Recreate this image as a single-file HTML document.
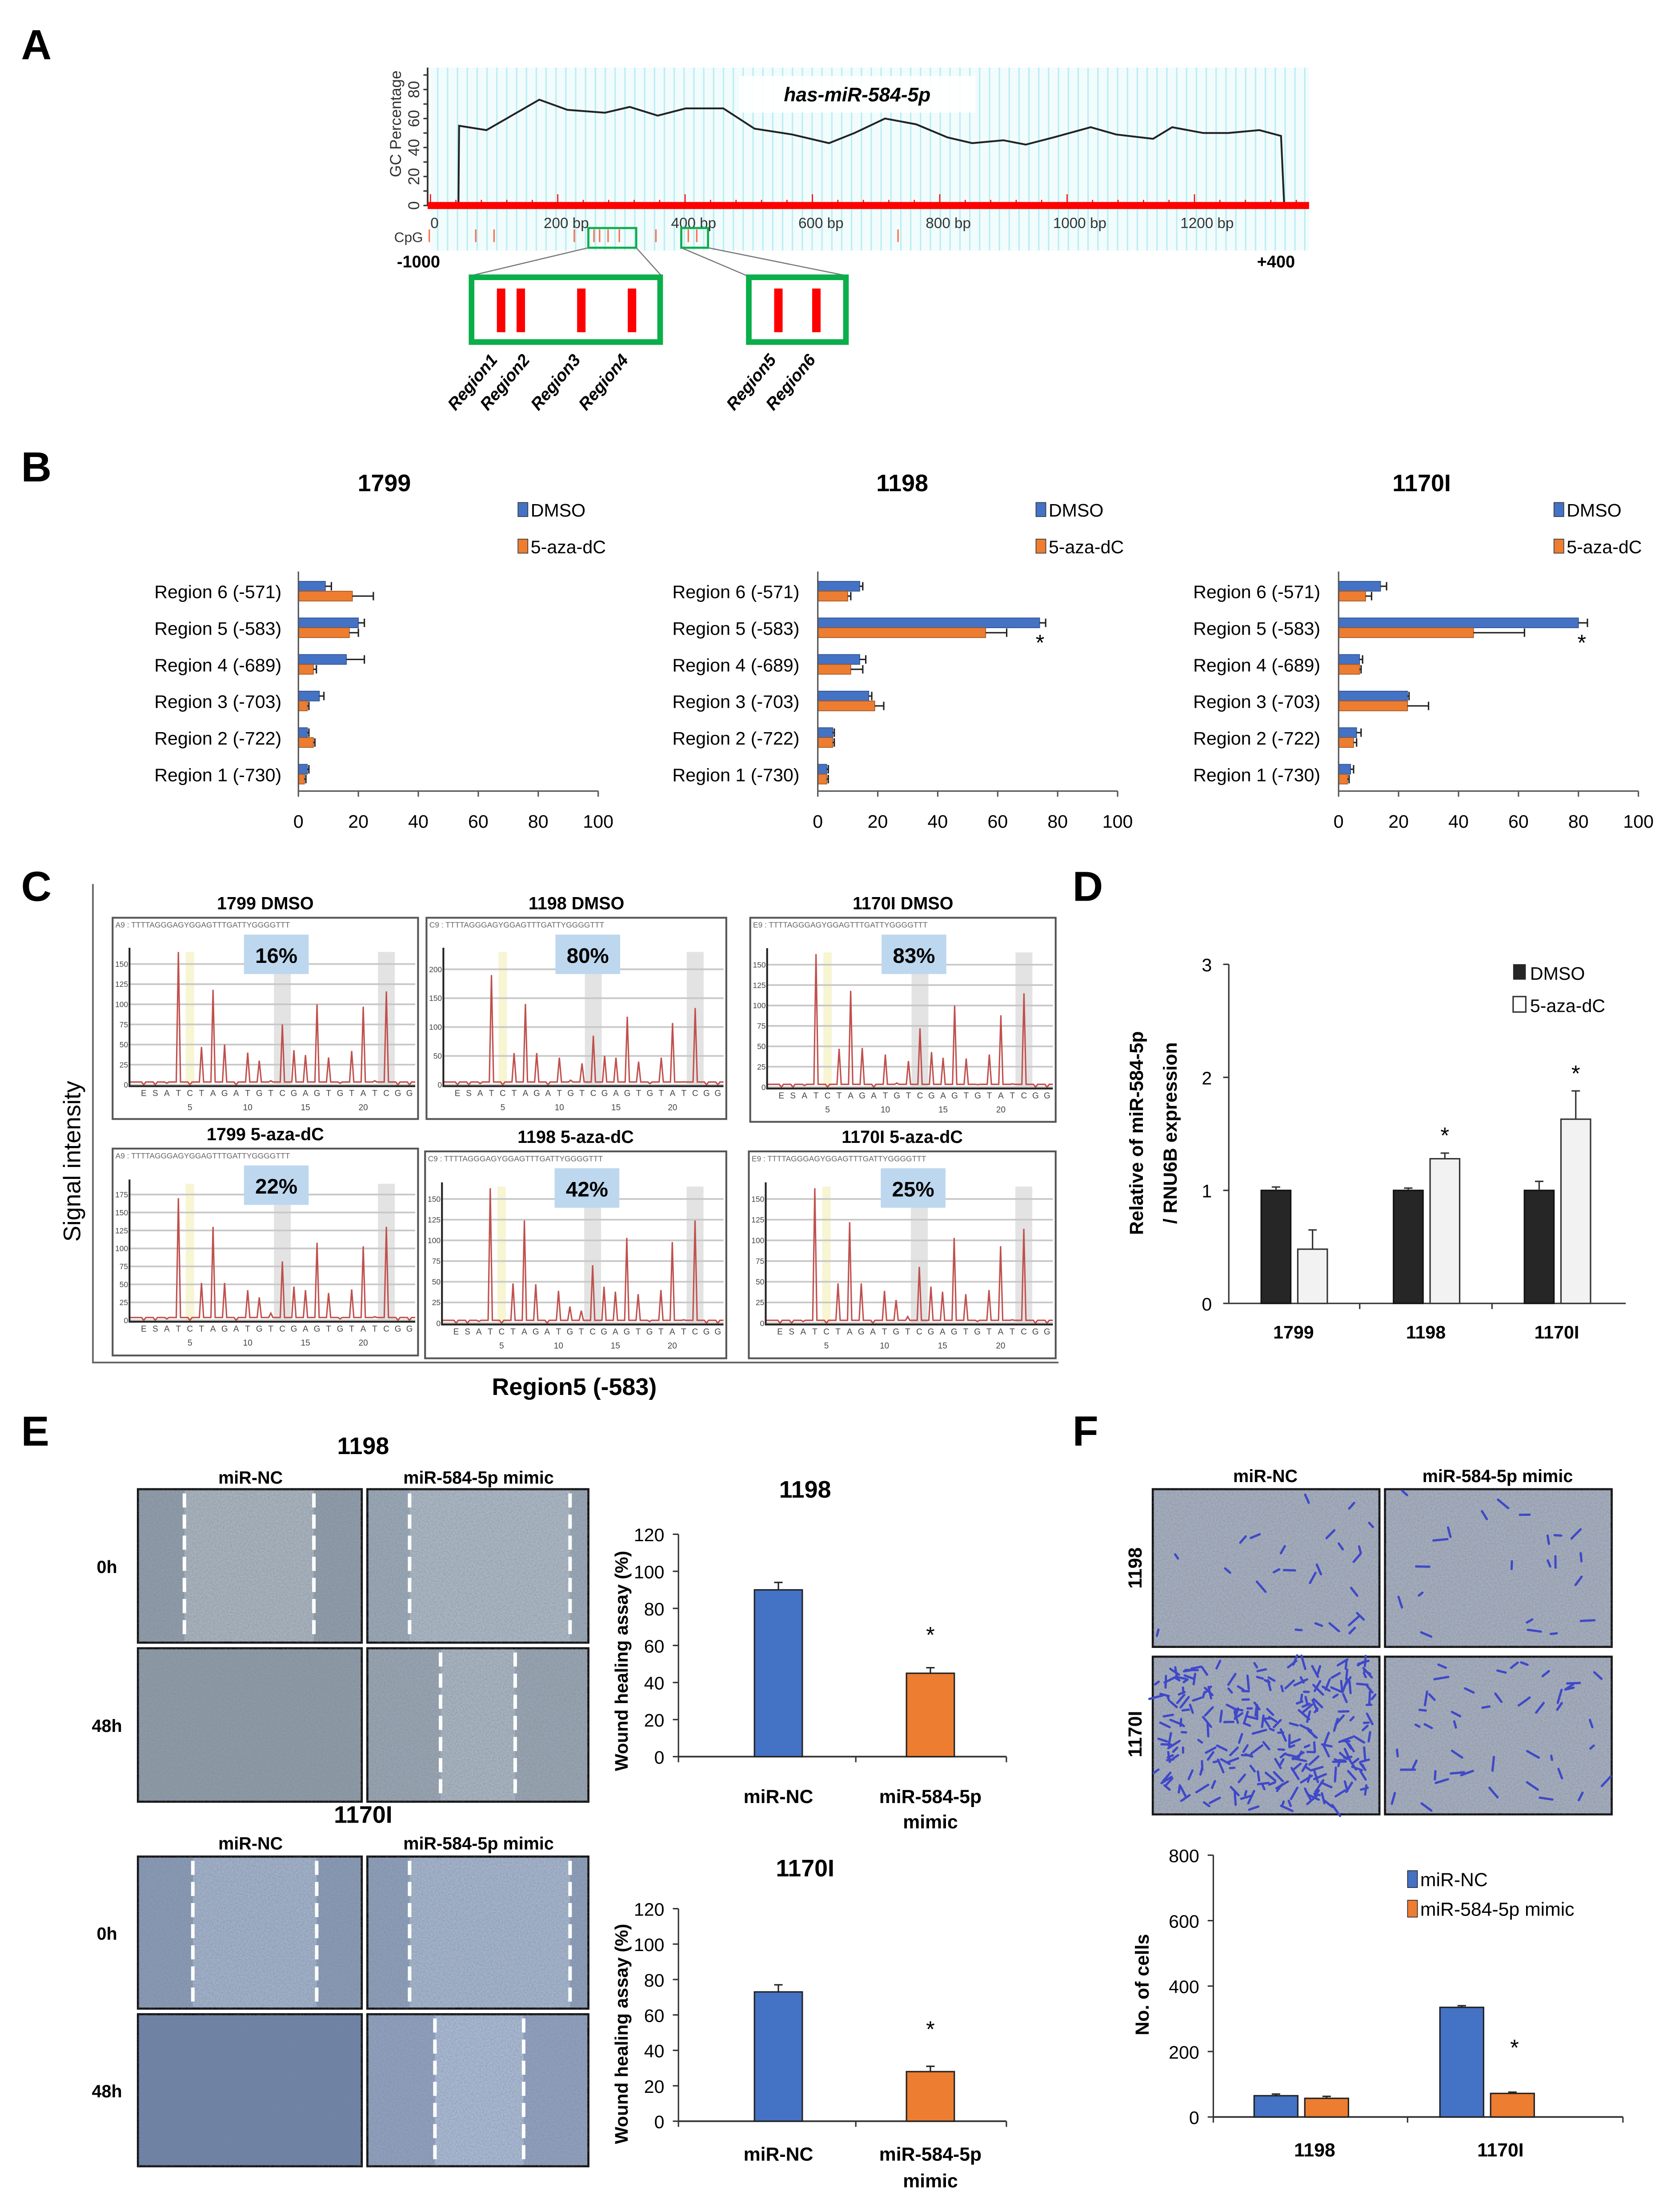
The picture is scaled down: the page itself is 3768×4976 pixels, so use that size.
<!DOCTYPE html>
<html><head><meta charset="utf-8"><style>
html,body{margin:0;padding:0;background:#fff}
svg{display:block}
text{font-family:"Liberation Sans",sans-serif}
</style></head><body>
<svg id="fig" xmlns="http://www.w3.org/2000/svg" width="3768" height="4976" viewBox="0 0 1190 1571.5">
<defs>
<filter id="noise" x="0" y="0" width="100%" height="100%"><feTurbulence type="fractalNoise" baseFrequency="0.9" numOctaves="2" seed="3"/><feColorMatrix type="matrix" values="0 0 0 0 0.2  0 0 0 0 0.22  0 0 0 0 0.28  0 0 0 1.4 -0.45"/></filter>
<pattern id="cyanlines" width="7" height="10" patternUnits="userSpaceOnUse"><rect width="7" height="10" fill="#f2fcfd"/><line x1="3" y1="0" x2="3" y2="10" stroke="#b9eef2" stroke-width="1"/></pattern>
</defs>
<rect width="1190" height="1571.5" fill="#fff"/>
<g font-weight="bold" font-size="30">
<text x="15" y="42">A</text>
<text x="15" y="342">B</text>
<text x="15" y="640">C</text>
<text x="762" y="640">D</text>
<text x="15" y="1027">E</text>
<text x="762" y="1027">F</text>
</g>
<g id="pA"></g>
<g id="pB"></g>
<g id="pC"></g>
<g id="pD"></g>
<g id="pE"></g>
<g id="pF"></g>
</svg>
<script>
// ---------- DATA ----------
const gcBp  = [0,44,45,88,171,215,274,313,357,401,460,509,568,626,666,714,763,812,851,900,935,979,1037,1077,1135,1165,1214,1253,1302,1336,1341,1380];
const gcPct = [0,0,55,52,73,66,64,68,62,67,67,53,49,43,50,60,56,47,43,45,42,47,54,49,46,54,50,50,52,48,0,0];
const regionCats = ["Region 6 (-571)","Region 5 (-583)","Region 4 (-689)","Region 3 (-703)","Region 2 (-722)","Region 1 (-730)"];
const bTitles = ["1799","1198","1170I"];
const bDmso = [[9,20,16,7,3,3],[14,74,14,17,5,3],[14,80,7,23,6,4]];
const bDmsoErr = [[2,2,6,1.5,0.5,0.5],[1,2,2,1,0.5,0.5],[2,3,1,0.5,1.5,1]];
const bAza = [[18,17,5,3,5,2],[10,56,11,19,5,3],[9,45,7,23,5,3]];
const bAzaErr = [[7,3,1,0.5,0.5,0.5],[1,7,4,3,0.5,0.5],[2,17,0.5,7,1,0.5]];
const bSig = [[false,false,false,false,false,false],[false,true,false,false,false,false],[false,true,false,false,false,false]];
const bTicks = [0,20,40,60,80,100];
const pyroTitles = ["1799 DMSO","1198 DMSO","1170I DMSO","1799 5-aza-dC","1198 5-aza-dC","1170I 5-aza-dC"];
const pyroPct = ["16%","80%","83%","22%","42%","25%"];
const pyroMax = [165,230,165,190,165,165];
const pyroTickStep = [25,50,25,25,25,25];
const pyroLetters = ["E","S","A","T","C","T","A","G","A","T","G","T","C","G","A","G","T","G","T","A","T","C","G","G"];
const pyroPeaks = [
 [0,0,2,165,0,47,118,50,0,40,30,5,75,43,37,100,34,2,42,97,5,116,0,0],
 [0,0,2,190,0,55,140,55,0,47,8,37,85,50,47,118,40,2,47,107,5,133,0,0],
 [0,0,2,163,0,47,118,48,0,40,5,32,72,43,36,100,35,3,40,88,4,115,0,0],
 [0,0,2,170,0,52,130,52,0,42,32,10,82,47,42,108,38,2,43,103,5,130,0,0],
 [0,0,2,163,0,48,124,47,0,39,20,15,70,44,38,103,35,2,40,98,4,124,0,0],
 [0,0,2,163,0,48,122,48,0,39,28,8,68,44,38,103,35,2,40,93,4,114,0,0]];
const dCats = ["1799","1198","1170I"];
const dDmso = [1.0,1.0,1.0];
const dDmsoErr = [0.03,0.02,0.08];
const dAza = [0.48,1.28,1.63];
const dAzaErr = [0.17,0.05,0.25];
const dSig = [false,true,true];
const dTicks = [0,1,2,3];
const eCats = ["miR-NC","miR-584-5p mimic"];
const eTitles = ["1198","1170I"];
const eVals = [[90,45],[73,28]];
const eErr = [[4,3],[4,3]];
const eSig = [[false,true],[false,true]];
const eTicks = [0,20,40,60,80,100,120];
const fCats = ["1198","1170I"];
const fNC = [65,335];
const fNCErr = [5,5];
const fMimic = [57,72];
const fMimicErr = [6,4];
const fSig = [false,true];
const fTicks = [0,200,400,600,800];

// ---------- HELPERS ----------
const NS="http://www.w3.org/2000/svg";
function el(parent,tag,attrs,txt){const e=document.createElementNS(NS,tag);for(const k in attrs)e.setAttribute(k,attrs[k]);if(txt!==undefined)e.textContent=txt;parent.appendChild(e);return e;}
const BLUE="#4472c4",ORANGE="#ed7d31";

// ---------- PANEL A ----------
(function(){
 const g=document.getElementById('pA');
 const x0=305.8,x1=930,yb=146,yt=48;
 const sx=bp=>x0+bp*(x1-x0)/1380, sy=p=>yb-p*1.03;
 let r=el(g,'rect',{x:x0,y:yt,width:x1-x0,height:130,fill:'url(#cyanlines)'});
 
 
 r=el(g,'rect',{x:525,y:54,width:168,height:26,fill:'#ffffff',opacity:0.9});
 
 
 let t=el(g,'text',{x:609,y:72,'font-size':14,'font-weight':'bold','font-style':'italic','text-anchor':'middle'},'has-miR-584-5p');
 
 
 let ax=el(g,'line',{x1:x0-2,y1:yt,x2:x0-2,y2:yb,stroke:'#333','stroke-width':1.2});
 
 
 [0,20,40,60,80].forEach(v=>{
  const tl=el(g,'text',{x:0,y:0,'font-size':11,fill:'#333','text-anchor':'middle',transform:`translate(${x0-8},${sy(v)}) rotate(-90)`},String(v));
  
  
 });
 for(let v=0;v<=90;v+=10){const tk=el(g,'line',{x1:x0-5,y1:sy(v),x2:x0-2,y2:sy(v),stroke:'#333'});
  
  }
 t=el(g,'text',{x:0,y:0,'font-size':11,fill:'#333','text-anchor':'middle',transform:`translate(${x0-21},${yb-58}) rotate(-90)`},'GC  Percentage');
 
 
 const pts=gcBp.map((b,i)=>sx(b)+','+sy(gcPct[i])).join(' ');
 let pl=el(g,'polyline',{points:pts,fill:'none',stroke:'#222','stroke-width':1.3});
 
 
 let rl=el(g,'line',{x1:x0-2,y1:yb,x2:x1,y2:yb,stroke:'#ff0000','stroke-width':5});
 
 
 for(let b=0;b<=1380;b+=40){const tk=el(g,'line',{x1:sx(b),y1:yb-(b%200==0?8:4),x2:sx(b),y2:yb,stroke:'#ff0000','stroke-width':0.8});
  
  }
 [[0,'0'],[200,'200  bp'],[400,'400  bp'],[600,'600  bp'],[800,'800  bp'],[1000,'1000  bp'],[1200,'1200  bp']].forEach(([b,s])=>{
  const tl=el(g,'text',{x:sx(b)-(b?10:0),y:162,'font-size':10.5,fill:'#333'},s);
  
  
 });
 t=el(g,'text',{x:280,y:172,'font-size':10,fill:'#333'},'CpG');
 
 
 [305,338,351,408,422,426,432,440,466,489,495,638].forEach(x=>{const m=el(g,'line',{x1:x,y1:163,x2:x,y2:172,stroke:'#ff6a4a','stroke-width':1});
  
  });
 t=el(g,'text',{x:282,y:190,'font-size':12,'font-weight':'bold','font-family':'Liberation Serif'},'-1000');
 
 
 t=el(g,'text',{x:893,y:190,'font-size':12,'font-weight':'bold','font-family':'Liberation Serif'},'+400');
 
 
 const G='#0aae4a';
 let sb=el(g,'rect',{x:418,y:162,width:34,height:14,fill:'none',stroke:G,'stroke-width':1.5});
 
 
 sb=el(g,'rect',{x:484,y:162,width:19,height:14,fill:'none',stroke:G,'stroke-width':1.5});
 
 
 [[418,176,334,196],[452,176,470,196],[484,176,531,196],[503,176,602,196]].forEach(c=>{const l=el(g,'line',{x1:c[0],y1:c[1],x2:c[2],y2:c[3],stroke:'#777','stroke-width':0.8});
  
  });
 let bb=el(g,'rect',{x:335,y:197,width:134,height:46,fill:'#fff',stroke:G,'stroke-width':4});
 
 
 bb=el(g,'rect',{x:532,y:197,width:69,height:46,fill:'#fff',stroke:G,'stroke-width':4});
 
 
 [356,370,413,449,553,580].forEach(x=>{const b=el(g,'rect',{x:x-3,y:205,width:6,height:31,fill:'#ff0000'});
  
  });
 [['Region1',354],['Region2',377],['Region3',413],['Region4',447],['Region5',552],['Region6',580]].forEach(([s,x])=>{
  const tl=el(g,'text',{x:0,y:0,'font-size':12,'font-weight':'bold','font-style':'italic','text-anchor':'end',transform:`translate(${x},${256}) rotate(-50)`},s);
  
  
 });
})();

// ---------- PANEL B ----------
(function(){
 const g=document.getElementById('pB');
 const charts=[{x0:212,lab:200,tx:273,lx:368},{x0:581,lab:568,tx:641,lx:736},{x0:951,lab:938,tx:1010,lx:1104}];
 const yc=[420,446,472,498,524,550], W=213, ybase=562;
 charts.forEach((c,ci)=>{
  const sx=v=>c.x0+v*W/100;
  let t=el(g,'text',{x:c.tx,y:349,'font-size':17,'font-weight':'bold','text-anchor':'middle'},bTitles[ci]);
  
  
  let s=el(g,'rect',{x:c.lx,y:357,width:7,height:10,fill:BLUE,stroke:'#333','stroke-width':0.5});
  
  
  t=el(g,'text',{x:c.lx+9,y:367,'font-size':13},'DMSO');
  
  
  s=el(g,'rect',{x:c.lx,y:383,width:7,height:10,fill:ORANGE,stroke:'#333','stroke-width':0.5});
  
  
  t=el(g,'text',{x:c.lx+9,y:393,'font-size':13},'5-aza-dC');
  
  
  regionCats.forEach((cat,i)=>{
   const tl=el(g,'text',{x:c.lab,y:yc[i]+5,'font-size':13,'text-anchor':'end'},cat);
   
   
   const b1=el(g,'rect',{x:c.x0,y:yc[i]-7,width:sx(bDmso[ci][i])-c.x0,height:7,fill:BLUE,stroke:'#2f4f8a','stroke-width':0.5});
   
   
   const b2=el(g,'rect',{x:c.x0,y:yc[i],width:sx(bAza[ci][i])-c.x0,height:7,fill:ORANGE,stroke:'#a0521c','stroke-width':0.5});
   
   
   [[bDmso,bDmsoErr,yc[i]-3.5],[bAza,bAzaErr,yc[i]+3.5]].forEach(([V,E,y])=>{
    const v=V[ci][i],e=E[ci][i];
    const l=el(g,'path',{d:`M${sx(v)},${y}H${sx(v+e)}M${sx(v+e)},${y-3}V${y+3}`,stroke:'#222','stroke-width':1,fill:'none'});
    
    
   });
   if(bSig[ci][i]){const st=el(g,'text',{x:sx(bDmso[ci][i]+bDmsoErr[ci][i])-4,y:yc[i]+16,'font-size':16,'text-anchor':'middle'},'*');
    
    }
  });
  let a=el(g,'line',{x1:c.x0,y1:406,x2:c.x0,y2:ybase,stroke:'#555','stroke-width':1});
  
  
  a=el(g,'line',{x1:c.x0,y1:ybase,x2:c.x0+W,y2:ybase,stroke:'#555','stroke-width':1});
  
  
  bTicks.forEach(v=>{
   const tk=el(g,'line',{x1:sx(v),y1:ybase,x2:sx(v),y2:ybase+4,stroke:'#555'});
   
   
   const tl=el(g,'text',{x:sx(v),y:588,'font-size':13,'text-anchor':'middle'},String(v));
   
   
  });
 });
})();

// ---------- PANEL C ----------
(function(){
 const g=document.getElementById('pC');
 let l=el(g,'path',{d:'M66,628V968H752',stroke:'#666','stroke-width':1.2,fill:'none'});
 
 
 let t=el(g,'text',{x:0,y:0,'font-size':17,'text-anchor':'middle',transform:'translate(57,825) rotate(-90)'},'Signal intensity');
 
 
 t=el(g,'text',{x:408,y:991,'font-size':17,'font-weight':'bold','text-anchor':'middle'},'Region5 (-583)');
 
 
 const boxes=[[80,652,217,143],[303,652,213,143],[533,652,217,145],[80,816,217,147],[302,818,214,147],[532,818,218,147]];
 boxes.forEach((b,i)=>{
  const [x,y,w,h]=b;
  let tt=el(g,'text',{x:x+w/2,y:y-6,'font-size':12.5,'font-weight':'bold','text-anchor':'middle'},pyroTitles[i]);
  
  
  let bx=el(g,'rect',{x:x,y:y,width:w,height:h,fill:'#fff',stroke:'#555','stroke-width':1.3});
  
  
  let sq=el(g,'text',{x:x+2,y:y+7,'font-size':5.5,fill:'#666'},String.fromCharCode(65+2*(i%3))+'9 : TTTTAGGGAGYGGAGTTTGATTYGGGGTTT');
  
  
  const px0=x+12,px1=x+w-2,yb=y+h*0.83,yt=y+h*0.17;
  const sy=v=>yb-v*(yb-yt)/pyroMax[i];
  const step=(px1-px0-6)/24;
  const cx=k=>px0+6+step*(k+0.5);
  let yl=el(g,'rect',{x:cx(4)-3,y:yt,width:6,height:yb-yt,fill:'#f7f5d2'});
  
  
  [12,21].forEach(k=>{const gr=el(g,'rect',{x:cx(k)-6,y:yt,width:12,height:yb-yt,fill:'#e3e3e3'});
   
   });
  for(let v=0;v<=pyroMax[i];v+=pyroTickStep[i]){
   const gl=el(g,'line',{x1:px0,y1:sy(v),x2:px1,y2:sy(v),stroke:'#c8c8c8','stroke-width':1.2});
   
   
   const tl=el(g,'text',{x:px0-1,y:sy(v)+2,'font-size':5.5,'text-anchor':'end',fill:'#444'},String(v));
   
   
  }
  let pb=el(g,'rect',{x:x+w*0.43,y:y+12,width:46,height:28,fill:'#bdd7ee'});
  
  
  let pt=el(g,'text',{x:x+w*0.43+23,y:y+32,'font-size':15,'font-weight':'bold','text-anchor':'middle'},pyroPct[i]);
  
  
  let d='M'+px0+','+(yb-2)+'H'+(px0+8);
  pyroPeaks[i].forEach((v,k)=>{const c=cx(k);d+=`L${c-1.5},${yb-2}L${c},${sy(v)}L${c+1.5},${yb-2}`;});
  d+='H'+px1;
  let pk=el(g,'path',{d:d,fill:'none',stroke:'#c0504d','stroke-width':1});
  
  
  let ax=el(g,'path',{d:`M${px0},${yt-3}V${yb+1}H${px1}`,stroke:'#222','stroke-width':1.3,fill:'none'});
  
  
  pyroLetters.forEach((s,k)=>{const lt=el(g,'text',{x:cx(k),y:yb+8,'font-size':6,'text-anchor':'middle',fill:'#444'},s);
   
   });
  [5,10,15,20].forEach(n=>{const nt=el(g,'text',{x:cx(n-1),y:yb+18,'font-size':6,'text-anchor':'middle',fill:'#444'},String(n));
   
   });
 });
})();

// ---------- PANEL D ----------
(function(){
 const g=document.getElementById('pD');
 const x0=873,yb=926,k=80.3,xe=1155;
 const sy=v=>yb-v*k;
 const centers=[919,1013,1106];
 let a=el(g,'line',{x1:x0,y1:sy(3),x2:x0,y2:yb,stroke:'#333','stroke-width':1});
 
 
 a=el(g,'line',{x1:x0,y1:yb,x2:xe,y2:yb,stroke:'#333','stroke-width':1});
 
 
 dTicks.forEach(v=>{
  const tk=el(g,'line',{x1:x0-4,y1:sy(v),x2:x0,y2:sy(v),stroke:'#333'});
  
  
  const tl=el(g,'text',{x:x0-12,y:sy(v)+5,'font-size':13,'text-anchor':'end'},String(v));
  
  
 });
 [966,1060].forEach(x=>{const tk=el(g,'line',{x1:x,y1:yb,x2:x,y2:yb+4,stroke:'#333'});
  
  });
 dCats.forEach((c,i)=>{
  const cx=centers[i];
  const tl=el(g,'text',{x:cx,y:951,'font-size':13,'font-weight':'bold','text-anchor':'middle'},c);
  
  
  const b1=el(g,'rect',{x:cx-23,y:sy(dDmso[i]),width:21,height:dDmso[i]*k,fill:'#262626',stroke:'#111'});
  
  
  const b2=el(g,'rect',{x:cx+3,y:sy(dAza[i]),width:21,height:dAza[i]*k,fill:'#f2f2f2',stroke:'#333'});
  
  
  [[cx-12.5,dDmso[i],dDmsoErr[i]],[cx+13.5,dAza[i],dAzaErr[i]]].forEach(([x,v,e])=>{
   const l=el(g,'path',{d:`M${x},${sy(v)}V${sy(v+e)}M${x-3},${sy(v+e)}H${x+3}`,stroke:'#333','stroke-width':1,fill:'none'});
   
   
  });
  if(dSig[i]){const st=el(g,'text',{x:cx+13.5,y:sy(dAza[i]+dAzaErr[i])-7,'font-size':16,'text-anchor':'middle'},'*');
   
   }
 });
 let s=el(g,'rect',{x:1075,y:685,width:9,height:11,fill:'#262626'});
 
 
 let t=el(g,'text',{x:1087,y:696,'font-size':13},'DMSO');
 
 
 s=el(g,'rect',{x:1075,y:708,width:9,height:11,fill:'#fff',stroke:'#333'});
 
 
 t=el(g,'text',{x:1087,y:719,'font-size':13},'5-aza-dC');
 
 
 t=el(g,'text',{x:0,y:0,'font-size':13.5,'font-weight':'bold','text-anchor':'middle',transform:'translate(812,805) rotate(-90)'},'Relative of miR-584-5p');
 
 
 t=el(g,'text',{x:0,y:0,'font-size':13.5,'font-weight':'bold','text-anchor':'middle',transform:'translate(836,805) rotate(-90)'},'/ RNU6B expression');
 
 
})();

// ---------- micrograph helper ----------
let seed=7;function rnd(){seed=(seed*16807)%2147483647;return seed/2147483647;}
function micro(g,x,y,w,h,base,dashes,gap,name){
 const r=el(g,'rect',{x:x,y:y,width:w,height:h,fill:base,stroke:'#111','stroke-width':1.5});
 
 
 if(gap){const gr=el(g,'rect',{x:gap[0],y:y+1,width:gap[1]-gap[0],height:h-2,fill:gap[2]});
  
  }
 const n=el(g,'rect',{x:x,y:y,width:w,height:h,filter:'url(#noise)',opacity:0.55});
 
 
 dashes.forEach(dx=>{const d=el(g,'line',{x1:dx,y1:y+3,x2:dx,y2:y+h-3,stroke:'#fff','stroke-width':2.5,'stroke-dasharray':'10,5'});
  
  });
}

// ---------- PANEL E ----------
(function(){
 const g=document.getElementById('pE');
 const blocks=[{ty:1033,hy:1054,lab:'1198',h:109,
   imgs:[[98,1058,[131,223],[131,223,'#a7b2bc'],'#8e9ba8'],[261,1058,[291,405],[291,405,'#a9b6c2'],'#98a6b4'],[98,1171,[],null,'#8d9aa6'],[261,1171,[313,366],[313,366,'#a7b3bf'],'#97a3b0']]},
  {ty:1295,hy:1314,lab:'1170I',h:108,
   imgs:[[98,1319,[137,225],[137,225,'#9fb0c8'],'#8799b4'],[261,1319,[291,405],[291,405,'#a2b3ca'],'#8b9db8'],[98,1431,[],null,'#6e82a8'],[261,1431,[309,372],[309,372,'#a7b8d2'],'#8e9fbd']]}];
 blocks.forEach(b=>{
  let t=el(g,'text',{x:258,y:b.ty,'font-size':17,'font-weight':'bold','text-anchor':'middle'},b.lab);
  
  
  t=el(g,'text',{x:178,y:b.hy,'font-size':12.5,'font-weight':'bold','text-anchor':'middle'},'miR-NC');
  
  
  t=el(g,'text',{x:340,y:b.hy,'font-size':12.5,'font-weight':'bold','text-anchor':'middle'},'miR-584-5p mimic');
  
  
  b.imgs.forEach((im,j)=>{
   micro(g,im[0],im[1],j%2?157:159,b.h,im[4],im[2],im[3],'wound-image');
  });
  t=el(g,'text',{x:76,y:b.imgs[0][1]+b.h/2+5,'font-size':12.5,'font-weight':'bold','text-anchor':'middle'},'0h');
  
  
  t=el(g,'text',{x:76,y:b.imgs[2][1]+b.h/2+5,'font-size':12.5,'font-weight':'bold','text-anchor':'middle'},'48h');
  
  
 });
 const charts=[{ty:1064,yb:1248,ytop:1090,star:1167,l1:1281,l2:1299,tc:1180},{ty:1333,yb:1507,ytop:1356,star:1447,l1:1535,l2:1554,tc:1445}];
 charts.forEach((c,ci)=>{
  const x0=482,xe=715,k=(c.yb-c.ytop)/120,sy=v=>c.yb-v*k;
  const cxs=[553,661];
  let t=el(g,'text',{x:572,y:c.ty,'font-size':17,'font-weight':'bold','text-anchor':'middle'},eTitles[ci]);
  
  
  let a=el(g,'line',{x1:x0,y1:c.ytop,x2:x0,y2:c.yb,stroke:'#333'});
  
  
  a=el(g,'line',{x1:x0,y1:c.yb,x2:xe,y2:c.yb,stroke:'#333','stroke-width':1.2});
  
  
  [x0,608,xe].forEach(x=>{const tk=el(g,'line',{x1:x,y1:c.yb,x2:x,y2:c.yb+4,stroke:'#333'});
   
   });
  eTicks.forEach(v=>{
   const tk=el(g,'line',{x1:x0-4,y1:sy(v),x2:x0,y2:sy(v),stroke:'#333'});
   
   
   const tl=el(g,'text',{x:x0-10,y:sy(v)+5,'font-size':13,'text-anchor':'end'},String(v));
   
   
  });
  t=el(g,'text',{x:0,y:0,'font-size':13,'font-weight':'bold','text-anchor':'middle',transform:`translate(446,${c.tc}) rotate(-90)`},'Wound healing assay (%)');
  
  
  eCats.forEach((cat,i)=>{
   const v=eVals[ci][i],e=eErr[ci][i],cx=cxs[i];
   const b=el(g,'rect',{x:cx-17,y:sy(v),width:34,height:v*k,fill:i?ORANGE:BLUE,stroke:'#222','stroke-width':1});
   
   
   const l=el(g,'path',{d:`M${cx},${sy(v)}V${sy(v+e)}M${cx-3},${sy(v+e)}H${cx+3}`,stroke:'#222','stroke-width':1,fill:'none'});
   
   
   if(eSig[ci][i]){const st=el(g,'text',{x:cx,y:c.star,'font-size':16,'text-anchor':'middle'},'*');
    
    }
   if(i===0){const tl=el(g,'text',{x:cx,y:c.l1,'font-size':13.5,'font-weight':'bold','text-anchor':'middle'},cat);
    
    }
   else{const tl=el(g,'text',{x:cx,y:c.l1,'font-size':13.5,'font-weight':'bold','text-anchor':'middle'},'miR-584-5p');
    
    
    const tl2=el(g,'text',{x:cx,y:c.l2,'font-size':13.5,'font-weight':'bold','text-anchor':'middle'},'mimic');
    
    }
  });
 });
})();

// ---------- PANEL F ----------
(function(){
 const g=document.getElementById('pF');
 let t=el(g,'text',{x:899,y:1053,'font-size':12.5,'font-weight':'bold','text-anchor':'middle'},'miR-NC');
 
 
 t=el(g,'text',{x:1064,y:1053,'font-size':12.5,'font-weight':'bold','text-anchor':'middle'},'miR-584-5p  mimic');
 
 
 const ims=[[819,1058,25],[984,1058,22],[819,1177,260],[984,1177,45]];
 ims.forEach(im=>{
  micro(g,im[0],im[1],161,112,'#a4adbd',[],null,'transwell-image');
  for(let i=0;i<im[2];i++){
   const x=im[0]+4+rnd()*153,y=im[1]+4+rnd()*104,a=rnd()*6.28,L=3+rnd()*7;
   const s=el(g,'line',{x1:x,y1:y,x2:x+Math.cos(a)*L,y2:y+Math.sin(a)*L,stroke:'#3f48c8','stroke-width':1.6,'stroke-linecap':'round'});
   
   
  }
 });
 t=el(g,'text',{x:0,y:0,'font-size':13.5,'font-weight':'bold','text-anchor':'middle',transform:'translate(811,1114) rotate(-90)'},'1198');
 
 
 t=el(g,'text',{x:0,y:0,'font-size':13.5,'font-weight':'bold','text-anchor':'middle',transform:'translate(811,1232) rotate(-90)'},'1170I');
 
 
 const x0=862,yb=1504,yt=1318,xe=1153,k=(yb-yt)/800,sy=v=>yb-v*k;
 const centers=[934,1066];
 let a=el(g,'line',{x1:x0,y1:yt,x2:x0,y2:yb,stroke:'#333'});
 
 
 a=el(g,'line',{x1:x0,y1:yb,x2:xe,y2:yb,stroke:'#333','stroke-width':1.2});
 
 
 [x0,1000,xe].forEach(x=>{const tk=el(g,'line',{x1:x,y1:yb,x2:x,y2:yb+4,stroke:'#333'});
  
  });
 fTicks.forEach(v=>{
  const tk=el(g,'line',{x1:x0-4,y1:sy(v),x2:x0,y2:sy(v),stroke:'#333'});
  
  
  const tl=el(g,'text',{x:x0-10,y:sy(v)+5,'font-size':13,'text-anchor':'end'},String(v));
  
  
 });
 t=el(g,'text',{x:0,y:0,'font-size':13.5,'font-weight':'bold','text-anchor':'middle',transform:'translate(816,1410) rotate(-90)'},'No.  of cells');
 
 
 fCats.forEach((c,i)=>{
  const cx=centers[i];
  const tl=el(g,'text',{x:cx,y:1532,'font-size':13.5,'font-weight':'bold','text-anchor':'middle'},c);
  
  
  const b1=el(g,'rect',{x:cx-43,y:sy(fNC[i]),width:31,height:fNC[i]*k,fill:BLUE,stroke:'#222'});
  
  
  const b2=el(g,'rect',{x:cx-7,y:sy(fMimic[i]),width:31,height:fMimic[i]*k,fill:ORANGE,stroke:'#222'});
  
  
  [[cx-27.5,fNC[i],fNCErr[i]],[cx+8.5,fMimic[i],fMimicErr[i]]].forEach(([x,v,e])=>{
   const l=el(g,'path',{d:`M${x},${sy(v)}V${sy(v+e)}M${x-3},${sy(v+e)}H${x+3}`,stroke:'#222','stroke-width':1,fill:'none'});
   
   
  });
  if(fSig[i]){const st=el(g,'text',{x:cx+10,y:sy(fMimic[i])-27,'font-size':16,'text-anchor':'middle'},'*');
   
   }
 });
 let s=el(g,'rect',{x:1000,y:1329,width:7,height:12,fill:BLUE,stroke:'#222','stroke-width':0.5});
 
 
 t=el(g,'text',{x:1009,y:1340,'font-size':13.5},'miR-NC');
 
 
 s=el(g,'rect',{x:1000,y:1350,width:7,height:12,fill:ORANGE,stroke:'#222','stroke-width':0.5});
 
 
 t=el(g,'text',{x:1009,y:1361,'font-size':13.5},'miR-584-5p mimic');
 
 
})();
</script>
</body></html>
